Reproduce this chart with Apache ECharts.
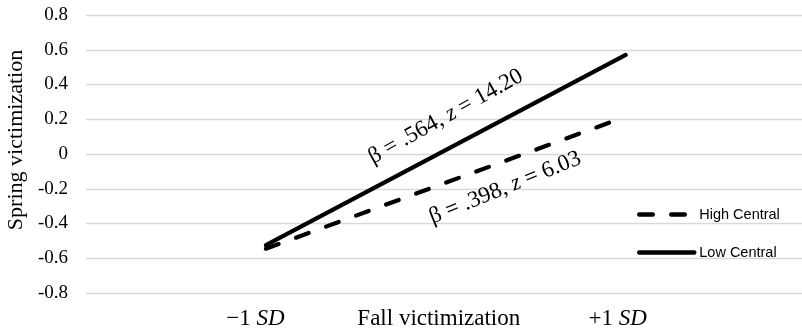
<!DOCTYPE html>
<html>
<head>
<meta charset="utf-8">
<script src="https://cdn.jsdelivr.net/npm/echarts@6/dist/echarts.min.js"></script>
<style>
html,body{margin:0;padding:0;background:#fff;}
#c{width:802px;height:334px;}
</style>
</head>
<body>
<div id="c"></div>
<script>
// Data
const xPoints = [-1, 1];                 // -1 SD, +1 SD of fall victimization
const highCentral = [-0.545, 0.215];
const lowCentral = [-0.525, 0.57];
const seriesNames = ['High Central', 'Low Central'];
const xTickLabels = {'-1': '−1', '1': '+1'};
const xAxisTitle = 'Fall victimization';
const yAxisTitle = 'Spring victimization';
const annLow = {x: 0.0, y: 0.215, beta: '.564', z: '14.20'};
const annHigh = {x: 0.33, y: -0.195, beta: '.398', z: '6.03'};

const serif = '"Liberation Serif", "Times New Roman", serif';
const chart = echarts.init(document.getElementById('c'));

function ann(a, rot) {
  return {
    coord: [a.x, a.y],
    symbol: 'circle', symbolSize: 0,
    label: {
      show: true, position: 'inside', rotate: rot,
      formatter: '{n|β = ' + a.beta + ', }{i|z}{n| = ' + a.z + '}',
      rich: {
        n: {fontFamily: serif, fontSize: 23, color: '#000'},
        i: {fontFamily: serif, fontSize: 23, fontStyle: 'italic', color: '#000'}
      }
    }
  };
}

chart.setOption({
  animation: false,
  backgroundColor: '#fff',
  grid: {left: 86, right: 0, top: 15, bottom: 41, containLabel: false, outerBoundsMode: 'none'},
  legend: {
    orient: 'vertical', left: 637, top: 207, padding: 0,
    itemWidth: 55, itemHeight: 14, itemGap: 23,
    itemStyle: {opacity: 0},
    lineStyle: {width: 4.5, cap: 'round'},
    textStyle: {fontFamily: '"Liberation Sans", Arial, sans-serif', fontSize: 14.5, color: '#000'},
    data: seriesNames
  },
  xAxis: {
    type: 'value', min: -2, max: 1.98, interval: 1,
    splitLine: {show: false}, axisLine: {show: false}, axisTick: {show: false},
    axisLabel: {
      margin: 14, showMaxLabel: false, showMinLabel: false,
      formatter: function (v) {
        if (v === -1) return '{n|' + xTickLabels['-1'] + ' }{ia|SD}';
        if (v === 1) return '{n|' + xTickLabels['1'] + ' }{ib|SD}';
        if (v === 0) return '{t|' + xAxisTitle + '}';
        return '';
      },
      rich: {
        n: {fontFamily: serif, fontSize: 23, color: '#000'},
        t: {fontFamily: serif, fontSize: 23, color: '#000', padding: [0, 14, 0, 0]},
        ia: {fontFamily: serif, fontSize: 23, fontStyle: 'italic', color: '#000', padding: [0, 21, 0, 0]},
        ib: {fontFamily: serif, fontSize: 23, fontStyle: 'italic', color: '#000', padding: [0, 16, 0, 0]}
      }
    }
  },
  yAxis: {
    type: 'value', min: -0.8, max: 0.8, interval: 0.2,
    axisLine: {show: false}, axisTick: {show: false},
    splitLine: {lineStyle: {color: '#d9d9d9', width: 1.3}},
    axisLabel: {
      margin: 18, fontFamily: serif, fontSize: 19, color: '#000',
      formatter: function (v) { return Math.abs(v) < 1e-9 ? '0' : v.toFixed(1); }
    },
    name: yAxisTitle, nameLocation: 'middle', nameGap: 59,
    nameTextStyle: {fontFamily: serif, fontSize: 22, color: '#000', padding: [0, 0, 0, 28]}
  },
  series: [
    {
      name: seriesNames[0], type: 'line', symbol: 'none',
      data: xPoints.map((x, i) => [x, highCentral[i]]),
      lineStyle: {color: '#000', width: 4.2, type: [13.5, 18.5], cap: 'round'},
      itemStyle: {color: '#000'},
      markPoint: {data: [ann(annHigh, 22)]}
    },
    {
      name: seriesNames[1], type: 'line', symbol: 'none',
      data: xPoints.map((x, i) => [x, lowCentral[i]]),
      lineStyle: {color: '#000', width: 4.2, type: 'solid', cap: 'round'},
      itemStyle: {color: '#000'},
      markPoint: {data: [ann(annLow, 29)]}
    }
  ]
});
</script>
</body>
</html>
